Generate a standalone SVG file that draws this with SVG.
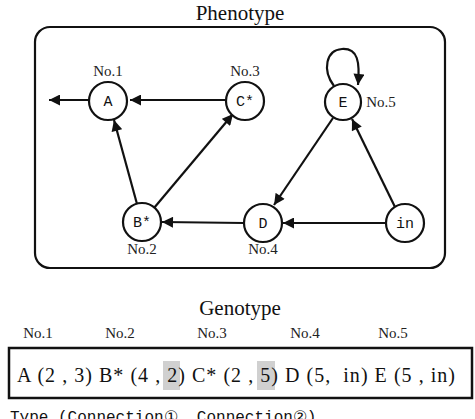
<svg xmlns="http://www.w3.org/2000/svg" width="475" height="419" viewBox="0 0 475 419">
<defs>
<style>
.title{font-family:"Liberation Serif",serif;font-size:21px;fill:#111;text-anchor:middle}
.no{font-family:"Liberation Serif",serif;font-size:15px;fill:#222;text-anchor:middle}
.node circle{fill:#fff;stroke:#111;stroke-width:2.2}
.node text{font-family:"Liberation Mono","DejaVu Sans Mono",monospace;font-size:15px;fill:#111;text-anchor:middle}
.edge{fill:none;stroke:#111;stroke-width:2.2;marker-end:url(#ah)}
.geno{font-family:"Liberation Serif",serif;font-size:20px;fill:#111}
.mono{font-family:"Liberation Mono","DejaVu Sans Mono",monospace;font-size:16px;fill:#111}
</style>
<marker id="ah" viewBox="0 0 10 10" refX="10" refY="5" markerWidth="5.5" markerHeight="5" orient="auto" markerUnits="strokeWidth">
<path d="M0,0 L10,5 L0,10 z" fill="#111"/>
</marker>
</defs>
<rect width="475" height="419" fill="#fff"/>
<text class="title" x="240" y="20">Phenotype</text>
<rect x="35" y="27" width="410" height="241" rx="15" fill="none" stroke="#111" stroke-width="2.2"/>
<g id="connectors">
<line class="edge" x1="89" y1="100" x2="49" y2="100"/>
<line class="edge" x1="226" y1="100" x2="130" y2="100"/>
<line class="edge" x1="137" y1="204" x2="114" y2="120"/>
<line class="edge" x1="154" y1="208" x2="233" y2="114"/>
<line class="edge" x1="244" y1="223" x2="162" y2="222"/>
<line class="edge" x1="386" y1="223" x2="283" y2="223"/>
<line class="edge" x1="395" y1="207" x2="352" y2="119"/>
<line class="edge" x1="333" y1="118" x2="274" y2="205"/>
<path class="edge" d="M334,86 C322,70 326,50 342,49 C358,48 360,62 358,85"/>
</g>
<g id="nA" class="node"><circle cx="108" cy="101" r="19"/><text x="108" y="106">A</text></g>
<g id="nC" class="node"><circle cx="245" cy="101" r="19"/><text x="245" y="106">C*</text></g>
<g id="nE" class="node"><circle cx="343" cy="102" r="18"/><text x="343" y="107">E</text></g>
<g id="nB" class="node"><circle cx="142" cy="222" r="19"/><text x="142" y="227">B*</text></g>
<g id="nD" class="node"><circle cx="263" cy="223" r="19"/><text x="263" y="228">D</text></g>
<g id="nin" class="node"><circle cx="405" cy="223" r="19"/><text x="405" y="228">in</text></g>
<text class="no" x="108" y="76">No.1</text>
<text class="no" x="245" y="76">No.3</text>
<text class="no" x="381" y="107">No.5</text>
<text class="no" x="142" y="254">No.2</text>
<text class="no" x="263" y="254">No.4</text>
<text class="title" x="240" y="315">Genotype</text>
<text class="no" x="38" y="338">No.1</text>
<text class="no" x="120" y="338">No.2</text>
<text class="no" x="212" y="338">No.3</text>
<text class="no" x="305" y="338">No.4</text>
<text class="no" x="393" y="338">No.5</text>
<rect x="163" y="361" width="17" height="29" fill="#d0d0d0"/>
<rect x="257" y="361" width="18" height="29" fill="#d0d0d0"/>
<rect x="9" y="348" width="463" height="50" fill="none" stroke="#111" stroke-width="2.5"/>
<text class="geno" x="17" y="382" textLength="438" lengthAdjust="spacing" xml:space="preserve">A (2 , 3) B* (4 , 2) C* (2 , 5) D (5,  in) E (5 , in)</text>
<text class="mono" x="10" y="422">Type (Connection①, Connection②)</text>
</svg>
